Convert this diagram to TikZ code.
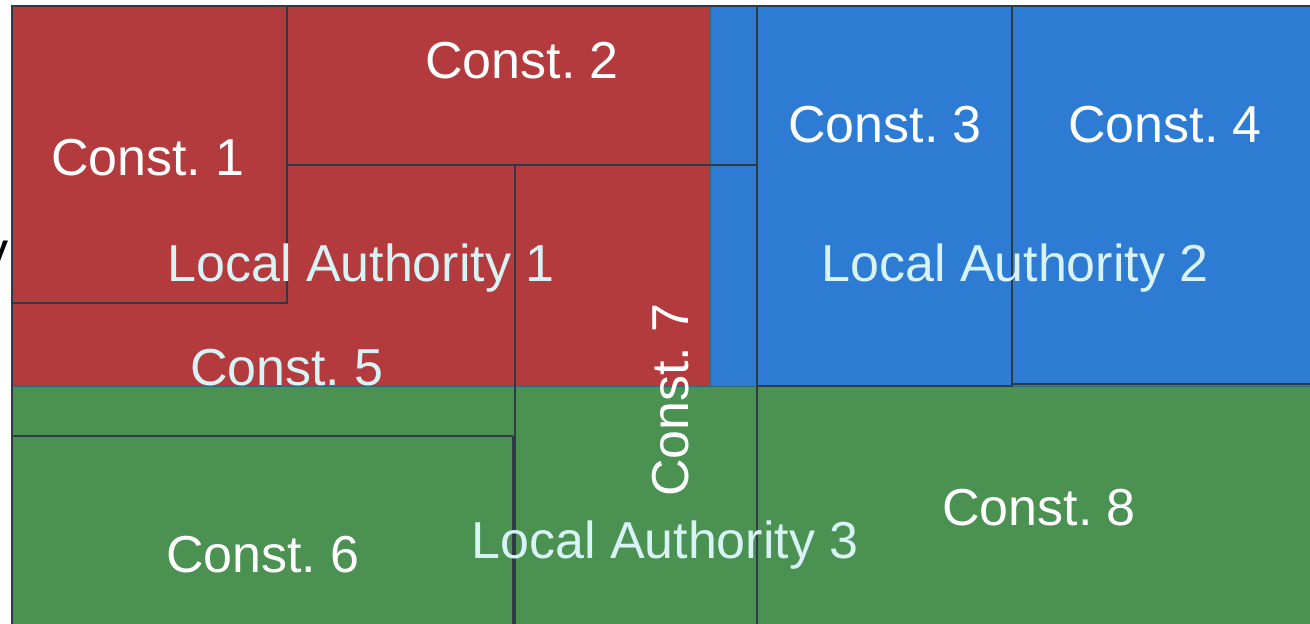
\documentclass[tikz,border=0pt]{standalone}
\usepackage{fontspec}
\setmainfont{Liberation Sans}
\frenchspacing
\definecolor{lared}{HTML}{B33B3E}
\definecolor{lablue}{HTML}{2D7BD2}
\definecolor{lagreen}{HTML}{4A9152}
\definecolor{edge}{HTML}{2F3B44}
\definecolor{rim}{HTML}{2A6A80}
\definecolor{latext}{HTML}{D8F3F5}
\tikzset{
  cline/.style={draw=edge, line width=2.2pt},
  rimline/.style={draw=rim, line width=1pt},
  constlbl/.style={text=white, font=\fontsize{52}{60}\selectfont, inner sep=0pt, anchor=base},
  lalbl/.style={text=latext, font=\fontsize{52}{60}\selectfont, inner sep=0pt, anchor=base},
}
\begin{document}
\begin{tikzpicture}[x=1pt, y=-1pt]
\useasboundingbox (0,0) rectangle (1310,624);
% local authority areas
\fill[lared] (12,6) rectangle (710,386);
\fill[lablue] (710,6) rectangle (1310,386);
\fill[lagreen] (12,386) rectangle (1310,624);
\draw[rimline] (12,386) -- (1310,386);
\draw[rimline] (710,6) -- (710,386);
% clipped stray letter
\begin{scope}
\clip (0,0) rectangle (12,624);
\node[text=black, font=\fontsize{52}{60}\selectfont, inner sep=0pt, anchor=base east] (ystray) at (9,268) {y};
\end{scope}
% constituency outlines
\draw[cline] (12,6) -- (1310,6);
\draw[cline] (12,6) -- (12,624);
\draw[cline] (12,6) rectangle (287,303);
\draw[cline] (287,165) -- (757,165);
\draw[cline] (515,165) -- (515,624);
\draw[cline] (757,6) -- (757,624);
\draw[cline] (757,6) rectangle (1012,386);
\draw[cline] (1012,384) -- (1310,384);
\draw[cline] (12,436) -- (513,436);
\draw[cline] (513,436) -- (513,624);
% labels
\node[lalbl] (la1) at (361,281) {Local Authority 1};
\node[lalbl] (la2) at (1015,281) {Local Authority 2};
\node[lalbl] (la3) at (665,558) {Local Authority 3};
\node[constlbl] (c1) at (148,175) {Const. 1};
\node[constlbl] (c2) at (522,78) {Const. 2};
\node[constlbl] (c3) at (885,142) {Const. 3};
\node[constlbl] (c4) at (1165,142) {Const. 4};
\node[lalbl] (c5) at (287,385) {Const. 5};
\node[constlbl] (c6) at (263,572) {Const. 6};
\node[constlbl, rotate=90] (c7) at (688,400) {Const. 7};
\node[constlbl] (c8) at (1039,525) {Const. 8};
\end{tikzpicture}
\end{document}
